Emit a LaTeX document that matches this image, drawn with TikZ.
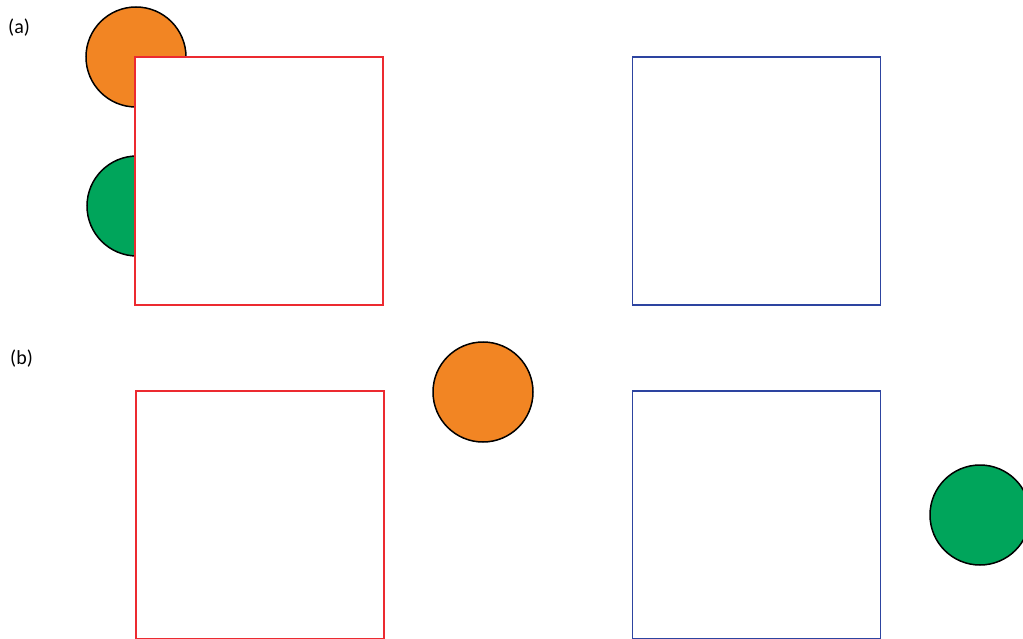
\documentclass[tikz,border=0pt]{standalone}
\usepackage{fontspec}
\setmainfont{Carlito}
\usepackage{tikz}
\usetikzlibrary{positioning}
\definecolor{orange}{HTML}{F28523}
\definecolor{green}{HTML}{00A55B}
\definecolor{red}{HTML}{EC2A30}
\definecolor{blue}{HTML}{2D44A0}
\begin{document}
\begin{tikzpicture}[
  x=1pt,y=-1pt,
  font=\fontsize{20}{24}\selectfont,
  ball/.style={circle,draw=black,line width=1.5pt,minimum size=100pt,inner sep=0pt},
  box/.style={draw,fill=white,line width=1.6pt,minimum size=248pt,inner sep=0pt},
  lbl/.style={anchor=west,inner sep=0pt}
]
\useasboundingbox (0,0) rectangle (1023,639);
% (a)
\node[lbl] (la) at (8,28) {(a)};
\node[ball,fill=orange] (orA) at (136,57) {};
\node[ball,fill=green] (grA) at (137,206) {};
\node[box,draw=red] (redA) at (259,181) {};
\node[box,draw=blue,right=248pt of redA] (blueA) {};
% (b)
\node[lbl] (lb) at (10,359) {(b)};
\node[box,draw=red] (redB) at (260,515) {};
\node[box,draw=blue,right=247pt of redB] (blueB) {};
\node[ball,fill=orange] (orB) at (483,392) {};
\node[ball,fill=green] (grB) at (980,515) {};
\end{tikzpicture}
\end{document}
